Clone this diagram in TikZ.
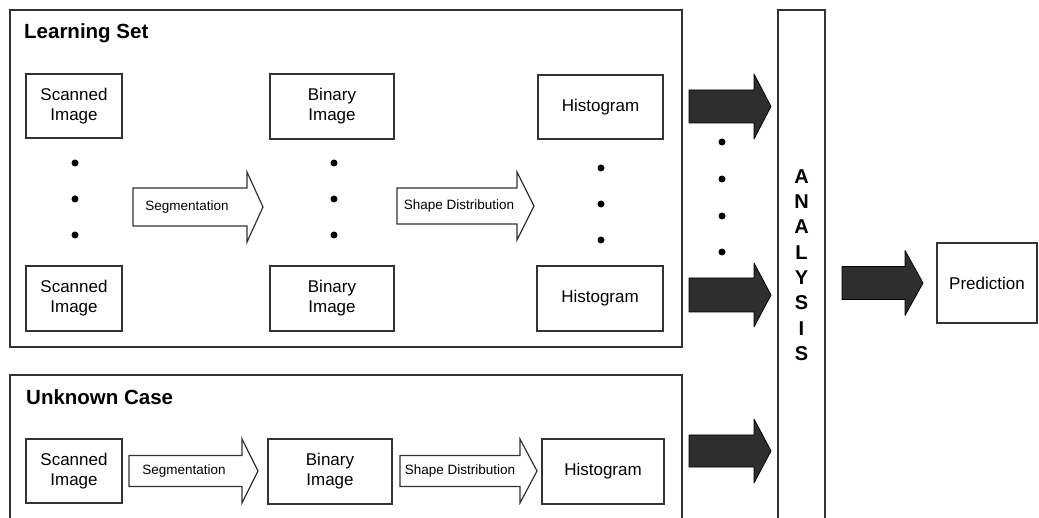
\documentclass[tikz,border=0pt]{standalone}
\usepackage{fontspec}
\setmainfont{Liberation Sans}
\newcommand\blkarrow[7]{\path[#1] (#2,{#5-#6}) -- (#3,{#5-#6}) -- (#3,{#5-#7}) -- (#4,#5) -- (#3,{#5+#7}) -- (#3,{#5+#6}) -- (#2,{#5+#6}) -- cycle;}
\tikzset{
  frame/.style={draw=black!80, line width=1.3pt},
  box/.style={draw=black!80, line width=1.4pt, fill=white, inner sep=0pt, align=center, font=\fontsize{17}{20}\selectfont},
  lbl/.style={inner sep=0pt, font=\fontsize{13.5}{15}\selectfont},
  wharrow/.style={draw=black!80, line width=1.2pt, fill=white, line join=miter},
  dkarrow/.style={draw=black, line width=0.8pt, fill=black!82, line join=round},
  dot/.style={circle, fill=black, inner sep=0pt, minimum size=7pt},
  title/.style={anchor=base west, inner sep=0pt, font=\bfseries\fontsize{20.5}{24}\selectfont},
}
\begin{document}
\begin{tikzpicture}[x=1pt,y=-1pt]
\useasboundingbox (0,0) rectangle (1039,518);
% frames
\draw[frame] (10,10) rectangle (682,347);
\draw[frame] (10,375) rectangle (682,540);
\draw[frame] (778,10) rectangle (825,540);
\node[title] (lstitle) at (24,39) {Learning Set};
\node[title] (uctitle) at (26,405) {Unknown Case};
% learning set boxes
\node[box, minimum width=96pt, minimum height=64pt] (scan1) at (74,106) {Scanned\\Image};
\node[box, minimum width=96pt, minimum height=65pt] (scan2) at (74,298.5) {Scanned\\Image};
\node[box, minimum width=124pt, minimum height=65pt] (bin1) at (332,106.5) {Binary\\Image};
\node[box, minimum width=124pt, minimum height=65pt] (bin2) at (332,298.5) {Binary\\Image};
\node[box, minimum width=125pt, minimum height=64pt] (hist1) at (600.5,107) {Histogram};
\node[box, minimum width=126pt, minimum height=65pt] (hist2) at (600,298.5) {Histogram};
% dots
\foreach \y [count=\i] in {163,199,235} {
  \node[dot] (ds\i) at (75,\y) {};
  \node[dot] (db\i) at (334,\y) {};
}
\foreach \y [count=\i] in {168,204,240} {
  \node[dot] (dh\i) at (601,\y) {};
}
\foreach \y [count=\i] in {142,179,216,252} {
  \node[dot] (dc\i) at (722,\y) {};
}
% white arrows learning set
\blkarrow{wharrow}{133}{247}{263}{207}{19}{35}
\node[lbl, anchor=base] (seg1) at (187,211) {Segmentation};
\blkarrow{wharrow}{397}{517}{534}{206}{18}{34}
\node[lbl, anchor=base] (sd1) at (459,210) {Shape Distribution};
% unknown case
\node[box, minimum width=96pt, minimum height=64pt] (scan3) at (74,471) {Scanned\\Image};
\node[box, minimum width=124pt, minimum height=65pt] (bin3) at (330,471.5) {Binary\\Image};
\node[box, minimum width=122pt, minimum height=65pt] (hist3) at (603,471.5) {Histogram};
\blkarrow{wharrow}{129}{242}{258}{471}{15.5}{32}
\node[lbl, anchor=base] (seg2) at (184,475) {Segmentation};
\blkarrow{wharrow}{400}{520}{537}{471}{15.5}{32}
\node[lbl, anchor=base] (sd2) at (460,475) {Shape Distribution};
% dark arrows
\blkarrow{dkarrow}{689}{754}{771}{106.5}{16.5}{32.5}
\blkarrow{dkarrow}{689}{754}{771}{295}{17}{32}
\blkarrow{dkarrow}{689}{754}{771}{451}{16}{32}
\blkarrow{dkarrow}{842}{905}{923}{283}{16.5}{32.5}
% analysis
\node[inner sep=0pt, align=center, font=\bfseries\fontsize{20}{25.3}\selectfont] (ana) at (801.5,265) {A\\N\\A\\L\\Y\\S\\I\\S};
\node[box, minimum width=100pt, minimum height=80pt] (pred) at (987,283) {Prediction};
\end{tikzpicture}
\end{document}
